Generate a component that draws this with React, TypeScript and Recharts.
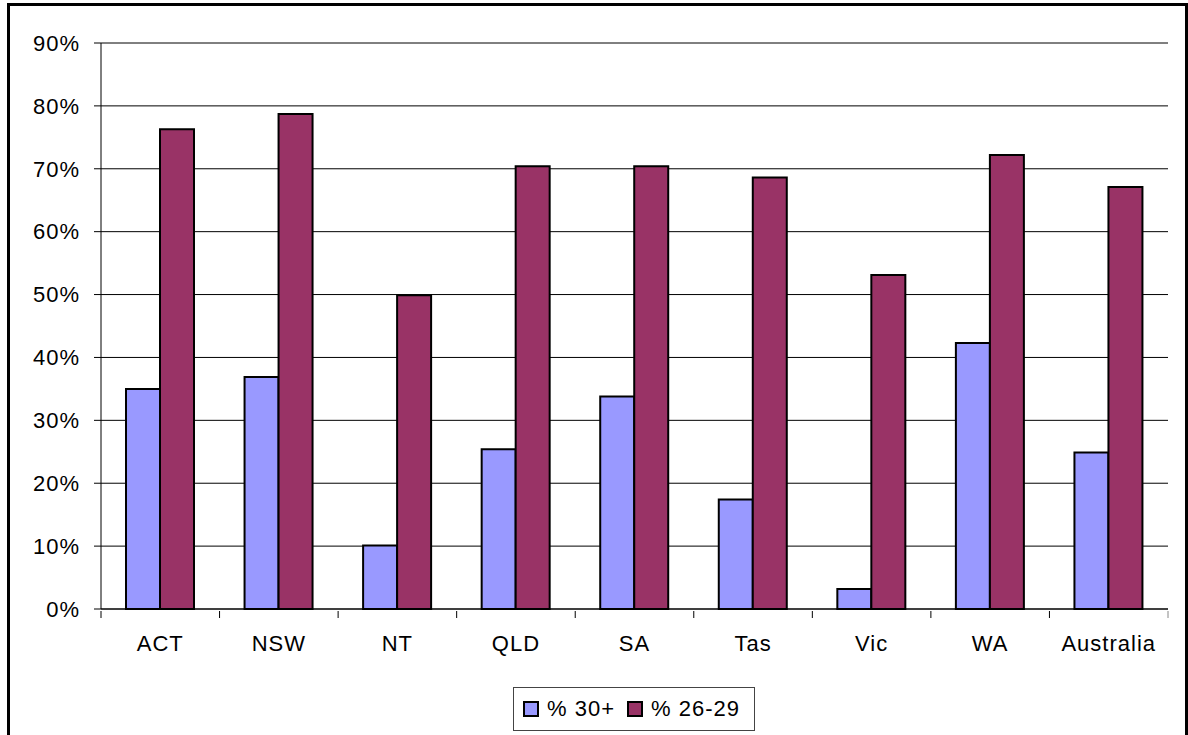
import { Bar, BarChart, CartesianGrid, XAxis, YAxis } from "recharts";

const categories = ["ACT", "NSW", "NT", "QLD", "SA", "Tas", "Vic", "WA", "Australia"];
const pct30Plus = [35.0, 36.9, 10.1, 25.4, 33.8, 17.4, 3.2, 42.3, 24.9];
const pct26to29 = [76.3, 78.7, 49.9, 70.4, 70.4, 68.6, 53.1, 72.2, 67.1];
const seriesNames = ["% 30+", "% 26-29"];
const seriesColors = ["#9999FF", "#993366"];
const yTicks = [0, 10, 20, 30, 40, 50, 60, 70, 80, 90];

const data = categories.map((name, i) => ({
  name,
  a: pct30Plus[i],
  b: pct26to29[i],
}));

const font = "'Liberation Sans', Arial, sans-serif";
const tickStyle = { fill: "#000", fontSize: 22, fontFamily: font, letterSpacing: 1 };

// category label with Excel-style tick marks on the category boundaries
function CategoryTick(props: any) {
  const { x, y, payload, index, visibleTicksCount } = props;
  const half = payload && typeof payload.offset === "number" && payload.offset > 0 ? payload.offset : 59.3;
  const axisY = y - 6;
  const isLast = index === visibleTicksCount - 1;
  return (
    <g>
      <line x1={x - half} x2={x - half} y1={axisY} y2={axisY + 7} stroke="#000" />
      {isLast && <line x1={x + half} x2={x + half} y1={axisY} y2={axisY + 7} stroke="#888" />}
      <text x={x} y={y + 18} dy="0.71em" textAnchor="middle" {...tickStyle}>
        {payload.value}
      </text>
    </g>
  );
}

export default function App() {
  return (
    <div
      style={{
        position: "absolute",
        left: 0,
        top: 0,
        width: 1188,
        height: 735,
        background: "#fff",
        overflow: "hidden",
        fontFamily: font,
      }}
    >
      <div
        style={{
          position: "absolute",
          left: 7,
          top: 3,
          width: 1181,
          height: 760,
          border: "3px solid #000",
          boxSizing: "border-box",
        }}
      />
      <div style={{ position: "absolute", left: 0, top: 0 }}>
        <BarChart
          width={1188}
          height={735}
          data={data}
          margin={{ top: 43, right: 20, left: 0, bottom: 76 }}
          barSize={34}
          barGap={0}
        >
          <CartesianGrid stroke="#000" vertical={false} yAxisId="0" />
          <XAxis
            dataKey="name"
            height={50}
            axisLine={{ stroke: "#000" }}
            tickLine={false}
            tick={<CategoryTick />}
            interval={0}
          />
          <YAxis
            yAxisId="0"
            domain={[0, 90]}
            ticks={yTicks}
            width={101}
            axisLine={{ stroke: "#000" }}
            tickLine={{ stroke: "#000" }}
            tickSize={7}
            tickMargin={14}
            tickFormatter={(v) => `${v}%`}
            tick={tickStyle}
          />
          <YAxis
            yAxisId="r"
            orientation="right"
            width={0}
            domain={[0, 90]}
            axisLine={{ stroke: "#888" }}
            tick={false}
            tickLine={false}
          />
          <Bar
            dataKey="a"
            name={seriesNames[0]}
            yAxisId="0"
            fill={seriesColors[0]}
            stroke="#000"
            strokeWidth={2}
            isAnimationActive={false}
          />
          <Bar
            dataKey="b"
            name={seriesNames[1]}
            yAxisId="0"
            fill={seriesColors[1]}
            stroke="#000"
            strokeWidth={2}
            isAnimationActive={false}
          />
        </BarChart>
      </div>
      <div
        style={{
          position: "absolute",
          left: 513,
          top: 687,
          width: 242,
          height: 44,
          border: "1px solid #444",
          boxSizing: "border-box",
          display: "flex",
          alignItems: "center",
          paddingLeft: 9,
          fontSize: 22,
          letterSpacing: 1,
          color: "#000",
        }}
      >
        {seriesNames.map((n, i) => (
          <div key={n} style={{ display: "flex", alignItems: "center", marginRight: 12 }}>
            <span
              style={{
                display: "inline-block",
                width: 12,
                height: 12,
                background: seriesColors[i],
                border: "2px solid #000",
                marginRight: 8,
              }}
            />
            <span>{n}</span>
          </div>
        ))}
      </div>
    </div>
  );
}
